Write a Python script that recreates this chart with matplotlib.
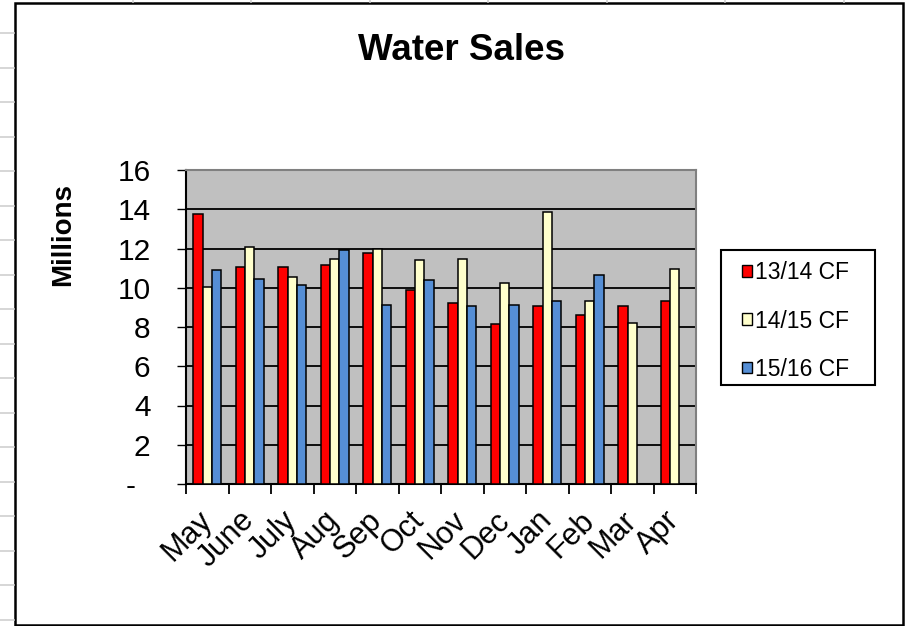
import matplotlib
matplotlib.use("Agg")
import matplotlib.pyplot as plt
import matplotlib.transforms as mtransforms
from matplotlib.patches import Rectangle, Patch
from matplotlib.lines import Line2D
import numpy as np

plt.rcParams['font.family'] = ['Liberation Sans', 'DejaVu Sans']

months = ['May', 'June', 'July', 'Aug', 'Sep', 'Oct', 'Nov', 'Dec', 'Jan', 'Feb', 'Mar', 'Apr']
cf_1314 = [13.74, 11.06, 11.06, 11.18, 11.78, 9.86, 9.24, 8.14, 9.06, 8.63, 9.06, 9.34]
cf_1415 = [10.04, 12.10, 10.57, 11.49, 12.00, 11.40, 11.49, 10.25, 13.84, 9.34, 8.22, 10.98]
cf_1516 = [10.88, 10.47, 10.16, 11.90, 9.14, 10.37, 9.06, 9.14, 9.34, 10.67, np.nan, np.nan]
series_names = ['13/14 CF', '14/15 CF', '15/16 CF']
colors = ['#FF0000', '#FFFFCC', '#558ED5']
yticks = [0, 2, 4, 6, 8, 10, 12, 14, 16]
ytick_labels = ['-', '2', '4', '6', '8', '10', '12', '14', '16']

W, H = 905, 626
fig = plt.figure(figsize=(W / 100, H / 100), dpi=100)

# axes in pixel box 186..696 x 170..484
ax = fig.add_axes([186 / W, 1 - 484 / H, 510 / W, 314 / H])
ax.set_facecolor('#C0C0C0')

x = np.arange(len(months))
bw = 0.222
for k, vals in enumerate([cf_1314, cf_1415, cf_1516]):
    ax.bar(x + 0.5 + (k - 1) * bw, vals, width=bw, color=colors[k],
           edgecolor='black', linewidth=1.1, zorder=3)

ax.set_xlim(0, len(months))
ax.set_ylim(0, 16)

ax.set_yticks(yticks)
ax.set_yticklabels(ytick_labels)
ax.yaxis.grid(True, color='black', linewidth=1.3, zorder=1)
ax.set_axisbelow(True)
ax.tick_params(axis='y', direction='out', length=6.5, width=1.0, pad=19,
               labelsize=21.5, colors='black')

# boundaries as major ticks, labels on minor ticks at centres
ax.set_xticks(np.arange(len(months) + 1))
ax.set_xticklabels([])
ax.set_xticks(x + 0.5, minor=True)
ax.set_xticklabels(months, minor=True, rotation=45, ha='right', va='center',
                   rotation_mode='anchor')
ax.tick_params(axis='x', which='major', direction='out', length=7, width=1.3)
ax.tick_params(axis='x', which='minor', length=0, pad=23, labelsize=22)

for sp in ['top', 'right']:
    ax.spines[sp].set_color('#808080')
    ax.spines[sp].set_linewidth(1.5)
for sp in ['left', 'bottom']:
    ax.spines[sp].set_color('black')
    ax.spines[sp].set_linewidth(1.5)

# shift the "-" label left like the accounting format does
zero_lbl = ax.yaxis.get_major_ticks()[0].label1
zero_lbl.set_transform(zero_lbl.get_transform() +
                       mtransforms.ScaledTranslation(-15 / 100, 0, fig.dpi_scale_trans))

fig.text(461 / W, 1 - 51 / H, 'Water Sales', ha='center', va='center',
         fontsize=26.5, fontweight='bold')
fig.text(63 / W, 1 - 234 / H, 'Millions', ha='center', va='center',
         rotation=90, fontsize=20, fontweight='bold')

# legend box
fig.add_artist(Rectangle((721 / W, 1 - 385 / H), 154 / W, 135 / H,
                         transform=fig.transFigure, facecolor='white',
                         edgecolor='black', linewidth=1.5))
handles = [Patch(facecolor=c, edgecolor='black', linewidth=1.0) for c in colors]
fig.legend(handles, series_names, loc='center left',
           bbox_to_anchor=(742 / W, 1 - 321 / H), frameon=False,
           fontsize=16.5, handlelength=0.42, handleheight=0.42,
           handletextpad=0.15, labelspacing=1.1, borderpad=0, borderaxespad=0)

# chart border and spreadsheet grid remnants
fig.add_artist(Rectangle((15 / W, 1 - 625 / H), 888 / W, 622 / H,
                         transform=fig.transFigure, facecolor='none',
                         edgecolor='black', linewidth=1.8))
for yy in np.arange(33, 620, 34.5):
    fig.add_artist(Line2D([0, 14 / W], [1 - yy / H, 1 - yy / H],
                          transform=fig.transFigure, color='#D0D0D0', linewidth=1.2))
for xx in [133, 251, 370, 488, 607, 725, 844]:
    fig.add_artist(Line2D([xx / W, xx / W], [1, 1 - 2 / H],
                          transform=fig.transFigure, color='#D0D0D0', linewidth=1.2))

fig.savefig('out.png', dpi=100)
